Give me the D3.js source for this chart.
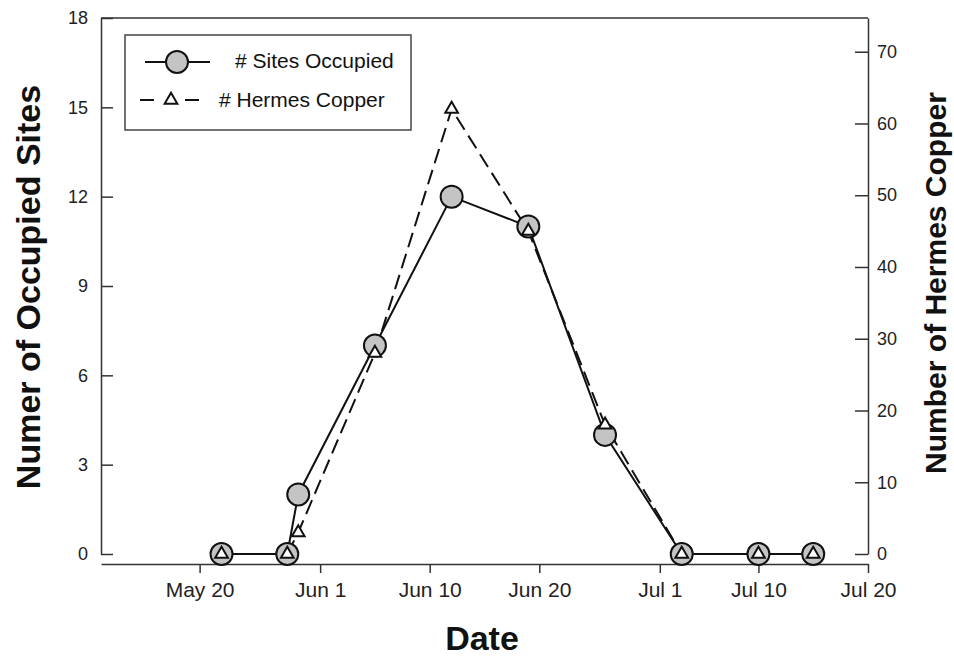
<!DOCTYPE html>
<html>
<head>
<meta charset="utf-8">
<script src="https://cdn.jsdelivr.net/npm/d3@7/dist/d3.min.js"></script>
<style>
  html, body { margin: 0; padding: 0; background: #fff; }
  svg { display: block; font-family: "Liberation Sans", Arial, sans-serif; }
  .tick text { fill: #222; }
</style>
</head>
<body>
<svg id="chart" width="954" height="658"></svg>
<script>
// Survey dates as day of year, with the two counts recorded on each date
const sampleDays   = [142, 148, 149, 156, 163, 170, 177, 184, 191, 196];
const sitesOccupied = [0, 0, 2, 7, 12, 11, 4, 0, 0, 0];
const hermesCopper  = [0, 0, 3, 28, 62, 45, 18, 0, 0, 0];

// Date axis ticks (day of year) and their labels
const xTickDays   = [140, 151, 161, 171, 182, 191, 201];
const xTickLabels = ["May 20", "Jun 1", "Jun 10", "Jun 20", "Jul 1", "Jul 10", "Jul 20"];
const leftTicks   = [0, 3, 6, 9, 12, 15, 18];
const rightTicks  = [0, 10, 20, 30, 40, 50, 60, 70];

const svg = d3.select("#chart");

const plotLeft = 101, plotRight = 868, plotTop = 18, plotBottom = 554, xAxisY = 564;

const x = d3.scaleLinear().domain([131, 201]).range([plotLeft, plotRight]);
const yL = d3.scaleLinear().domain([0, 18]).range([plotBottom, plotTop]);
const yR = d3.scaleLinear().domain([0, 74.7]).range([plotBottom, plotTop]);

// Top frame line
svg.append("line")
  .attr("x1", plotLeft).attr("x2", plotRight).attr("y1", plotTop).attr("y2", plotTop)
  .attr("stroke", "#333").attr("stroke-width", 1.5);

// Left axis (ticks pointing inward, labels outside)
const gL = svg.append("g").attr("transform", `translate(${plotLeft},0)`)
  .call(d3.axisLeft(yL).tickValues(leftTicks).tickSizeInner(-12).tickSizeOuter(0).tickPadding(13));
gL.selectAll("text").style("font-size", "18px");

// Right axis
const gR = svg.append("g").attr("transform", `translate(${plotRight},0)`)
  .call(d3.axisRight(yR).tickValues(rightTicks).tickSizeInner(-13).tickSizeOuter(0).tickPadding(9));
gR.selectAll("text").style("font-size", "18px");

// Bottom date axis
const gX = svg.append("g").attr("transform", `translate(0,${xAxisY})`)
  .call(d3.axisBottom(x).tickValues(xTickDays)
    .tickFormat((d, i) => xTickLabels[i]).tickSizeInner(9).tickSizeOuter(0).tickPadding(9));
gX.selectAll("text").style("font-size", "21px");

svg.selectAll(".domain, .tick line").attr("stroke", "#333").attr("stroke-width", 1.5);

// Axis titles
svg.append("text")
  .attr("transform", "translate(40,287) rotate(-90)")
  .attr("text-anchor", "middle")
  .style("font-size", "34px").style("font-weight", "bold").attr("fill", "#111")
  .text("Numer of Occupied Sites");

svg.append("text")
  .attr("transform", "translate(946,283) rotate(-90)")
  .attr("text-anchor", "middle")
  .style("font-size", "30px").style("font-weight", "bold").attr("fill", "#111")
  .text("Number of Hermes Copper");

svg.append("text")
  .attr("x", 482).attr("y", 650)
  .attr("text-anchor", "middle")
  .style("font-size", "34px").style("font-weight", "bold").attr("fill", "#111")
  .text("Date");

const sites = sampleDays.map((d, i) => ({ day: d, v: sitesOccupied[i] }));
const copper = sampleDays.map((d, i) => ({ day: d, v: hermesCopper[i] }));

const lineSites = d3.line().x(d => x(d.day)).y(d => yL(d.v));
const lineCopper = d3.line().x(d => x(d.day)).y(d => yR(d.v));

const triangle = d3.symbol().type(d3.symbolTriangle).size(70);

// Hermes Copper dashed series
svg.append("path").datum(copper)
  .attr("d", lineCopper).attr("fill", "none")
  .attr("stroke", "#111").attr("stroke-width", 2).attr("stroke-dasharray", "15,7");

// Occupied sites solid series
svg.append("path").datum(sites)
  .attr("d", lineSites).attr("fill", "none")
  .attr("stroke", "#111").attr("stroke-width", 2);

svg.selectAll("circle.site").data(sites).join("circle")
  .attr("class", "site")
  .attr("cx", d => x(d.day)).attr("cy", d => yL(d.v)).attr("r", 11)
  .attr("fill", "#c4c4c4").attr("stroke", "#111").attr("stroke-width", 2);

svg.selectAll("path.copper").data(copper).join("path")
  .attr("class", "copper")
  .attr("transform", d => `translate(${x(d.day)},${yR(d.v)})`)
  .attr("d", triangle)
  .attr("fill", "#fff").attr("stroke", "#111").attr("stroke-width", 2);

// Legend
const lg = svg.append("g");
lg.append("rect")
  .attr("x", 125).attr("y", 35).attr("width", 286).attr("height", 95)
  .attr("fill", "#fff").attr("stroke", "#444").attr("stroke-width", 1.5);

lg.append("line").attr("x1", 145).attr("x2", 210).attr("y1", 62).attr("y2", 62)
  .attr("stroke", "#111").attr("stroke-width", 2);
lg.append("circle").attr("cx", 177).attr("cy", 62).attr("r", 11)
  .attr("fill", "#c4c4c4").attr("stroke", "#111").attr("stroke-width", 2);
lg.append("text").attr("x", 235).attr("y", 68)
  .style("font-size", "21px").attr("fill", "#111").text("# Sites Occupied");

lg.append("line").attr("x1", 140).attr("x2", 199).attr("y1", 100).attr("y2", 100)
  .attr("stroke", "#111").attr("stroke-width", 2).attr("stroke-dasharray", "14,31");
lg.append("path").attr("transform", "translate(171,100)").attr("d", triangle)
  .attr("fill", "#fff").attr("stroke", "#111").attr("stroke-width", 2);
lg.append("text").attr("x", 219).attr("y", 107)
  .style("font-size", "21px").attr("fill", "#111").text("# Hermes Copper");
</script>
</body>
</html>
